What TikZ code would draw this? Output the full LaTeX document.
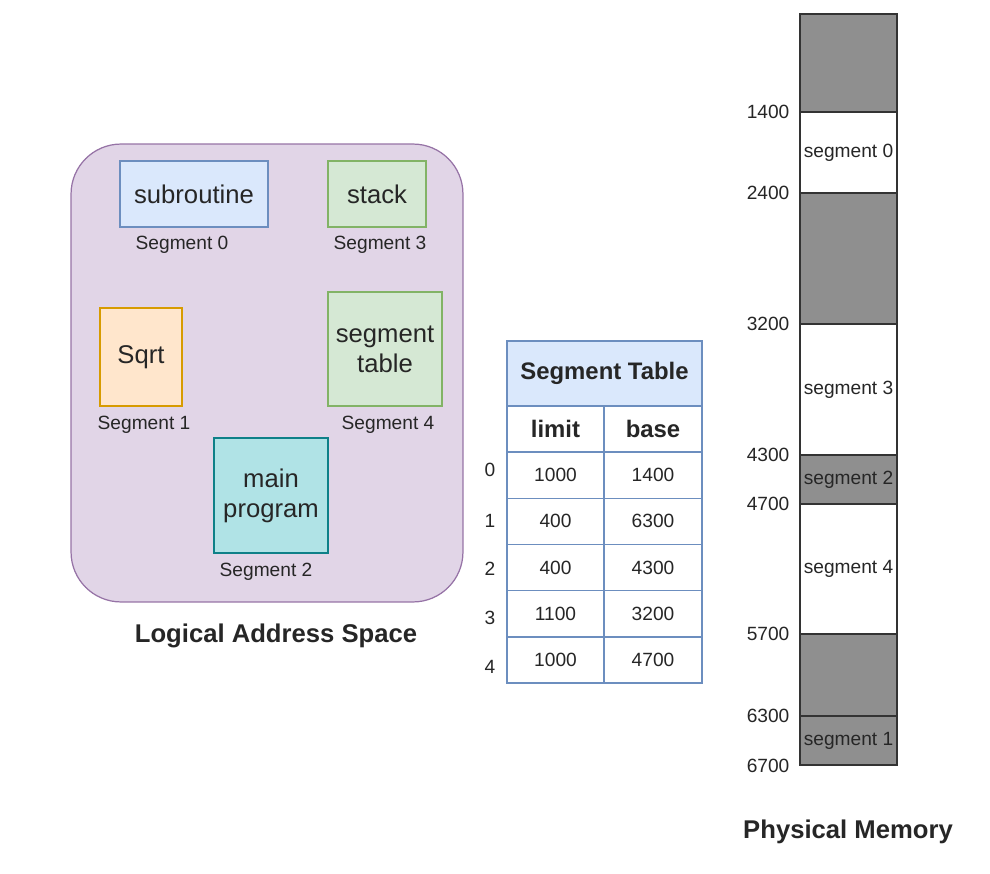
\documentclass[tikz,border=0pt]{standalone}
\usepackage{fontspec}
\setmainfont{Liberation Sans}
\usepackage{xcolor}
\definecolor{LasFill}{HTML}{E1D5E7}
\definecolor{LasLine}{HTML}{9673A6}
\definecolor{BlueBg}{HTML}{DAE8FC}
\definecolor{BlueLine}{HTML}{6C8EBF}
\definecolor{GreenBg}{HTML}{D5E8D4}
\definecolor{GreenLine}{HTML}{82B366}
\definecolor{OrangeBg}{HTML}{FFE6CC}
\definecolor{OrangeLine}{HTML}{D79B00}
\definecolor{TealBg}{HTML}{B0E3E6}
\definecolor{TealLine}{HTML}{0E8088}
\definecolor{UsedGray}{HTML}{8F8F8F}
\usepackage{tikz}
\usetikzlibrary{positioning}

\begin{document}
\begin{tikzpicture}[x=0.02cm, y=-0.02cm, line width=0.7pt,
  every node/.style={align=center, inner sep=0pt, text=black!85},
  bigtxt/.style={font=\fontsize{14.6}{17}\selectfont},
  smalltxt/.style={font=\fontsize{10.9}{13}\selectfont},
  segbox/.style={draw, bigtxt},
  cell/.style={draw=BlueLine, fill=white, smalltxt, minimum height=0.924cm},
  memblock/.style={draw=black!80, smalltxt, minimum width=1.94cm}]
  \useasboundingbox (0,0) rectangle (990,874);

  % logical address space
  \node[draw=LasLine, fill=LasFill, rounded corners=1cm, minimum width=7.84cm, minimum height=9.16cm] (las) at (267,373) {};
  \node[segbox, draw=BlueLine, fill=BlueBg, minimum width=2.96cm, minimum height=1.32cm] (subr) at (194,194) {subroutine};
  \node[segbox, draw=GreenLine, fill=GreenBg, minimum width=1.96cm, minimum height=1.32cm] (stack) at (377,194) {stack};
  \node[segbox, draw=OrangeLine, fill=OrangeBg, minimum width=1.64cm, minimum height=1.96cm] (sqrt) at (141,357) {Sqrt};
  \node[segbox, draw=GreenLine, fill=GreenBg, minimum width=2.28cm, minimum height=2.28cm] (segtab) at (385,349) {segment\\table};
  \node[segbox, draw=TealLine, fill=TealBg, minimum width=2.28cm, minimum height=2.30cm] (main) at (271,495.5) {main\\program};
  \node[smalltxt] (lab0) at (182,245) {Segment 0};
  \node[smalltxt] (lab3) at (380,245) {Segment 3};
  \node[smalltxt] (lab1) at (144,425) {Segment 1};
  \node[smalltxt] (lab4) at (388,425) {Segment 4};
  \node[smalltxt] (lab2) at (266,572) {Segment 2};
  \node[bigtxt, font=\fontsize{14.6}{17}\selectfont\bfseries] (lastitle) at (276,636) {Logical Address Space};

  % segment table
  \node[draw=BlueLine, fill=BlueBg, minimum width=3.9cm, minimum height=1.3cm, font=\fontsize{13.6}{16}\selectfont\bfseries] (sthead) at (604.5,373.5) {Segment Table};
  \node[cell, minimum width=1.94cm, font=\fontsize{13.6}{16}\selectfont\bfseries] (limit) at (555.5,429) {limit};
  \node[cell, minimum width=1.96cm, font=\fontsize{13.6}{16}\selectfont\bfseries] (base) at (653,429) {base};
  \foreach \i/\lim/\bas/\iy in {0/1000/1400/470, 1/400/6300/521, 2/400/4300/569, 3/1100/3200/618, 4/1000/4700/667} {
    \node[cell, minimum width=1.94cm] (lim\i) at (555.5,{475.2+46.2*\i}) {\lim};
    \node[cell, minimum width=1.96cm] (bas\i) at (653,{475.2+46.2*\i}) {\bas};
    \node[smalltxt] (idx\i) at (490,\iy) {\i};
  }

  % physical memory
  \foreach \t/\b/\col/\txt [count=\k] in {14/112/UsedGray/, 112/193/white/segment 0, 193/324/UsedGray/, 324/455/white/segment 3,
      455/504/UsedGray/segment 2, 504/634/white/segment 4, 634/716/UsedGray/, 716/765/UsedGray/segment 1} {
    \node[memblock, fill=\col, minimum height={(\b-\t)*0.02cm}] (mem\k) at (848.5,{(\t+\b)/2}) {\txt};
  }
  \foreach \a/\ay in {1400/112, 2400/193, 3200/324, 4300/455, 4700/504, 5700/634, 6300/716, 6700/766} {
    \node[smalltxt, anchor=east] (addr\a) at (790,\ay) {\a};
  }
  \node[bigtxt, font=\fontsize{14.6}{17}\selectfont\bfseries] (pmtitle) at (848,832) {Physical Memory};
\end{tikzpicture}
\end{document}
